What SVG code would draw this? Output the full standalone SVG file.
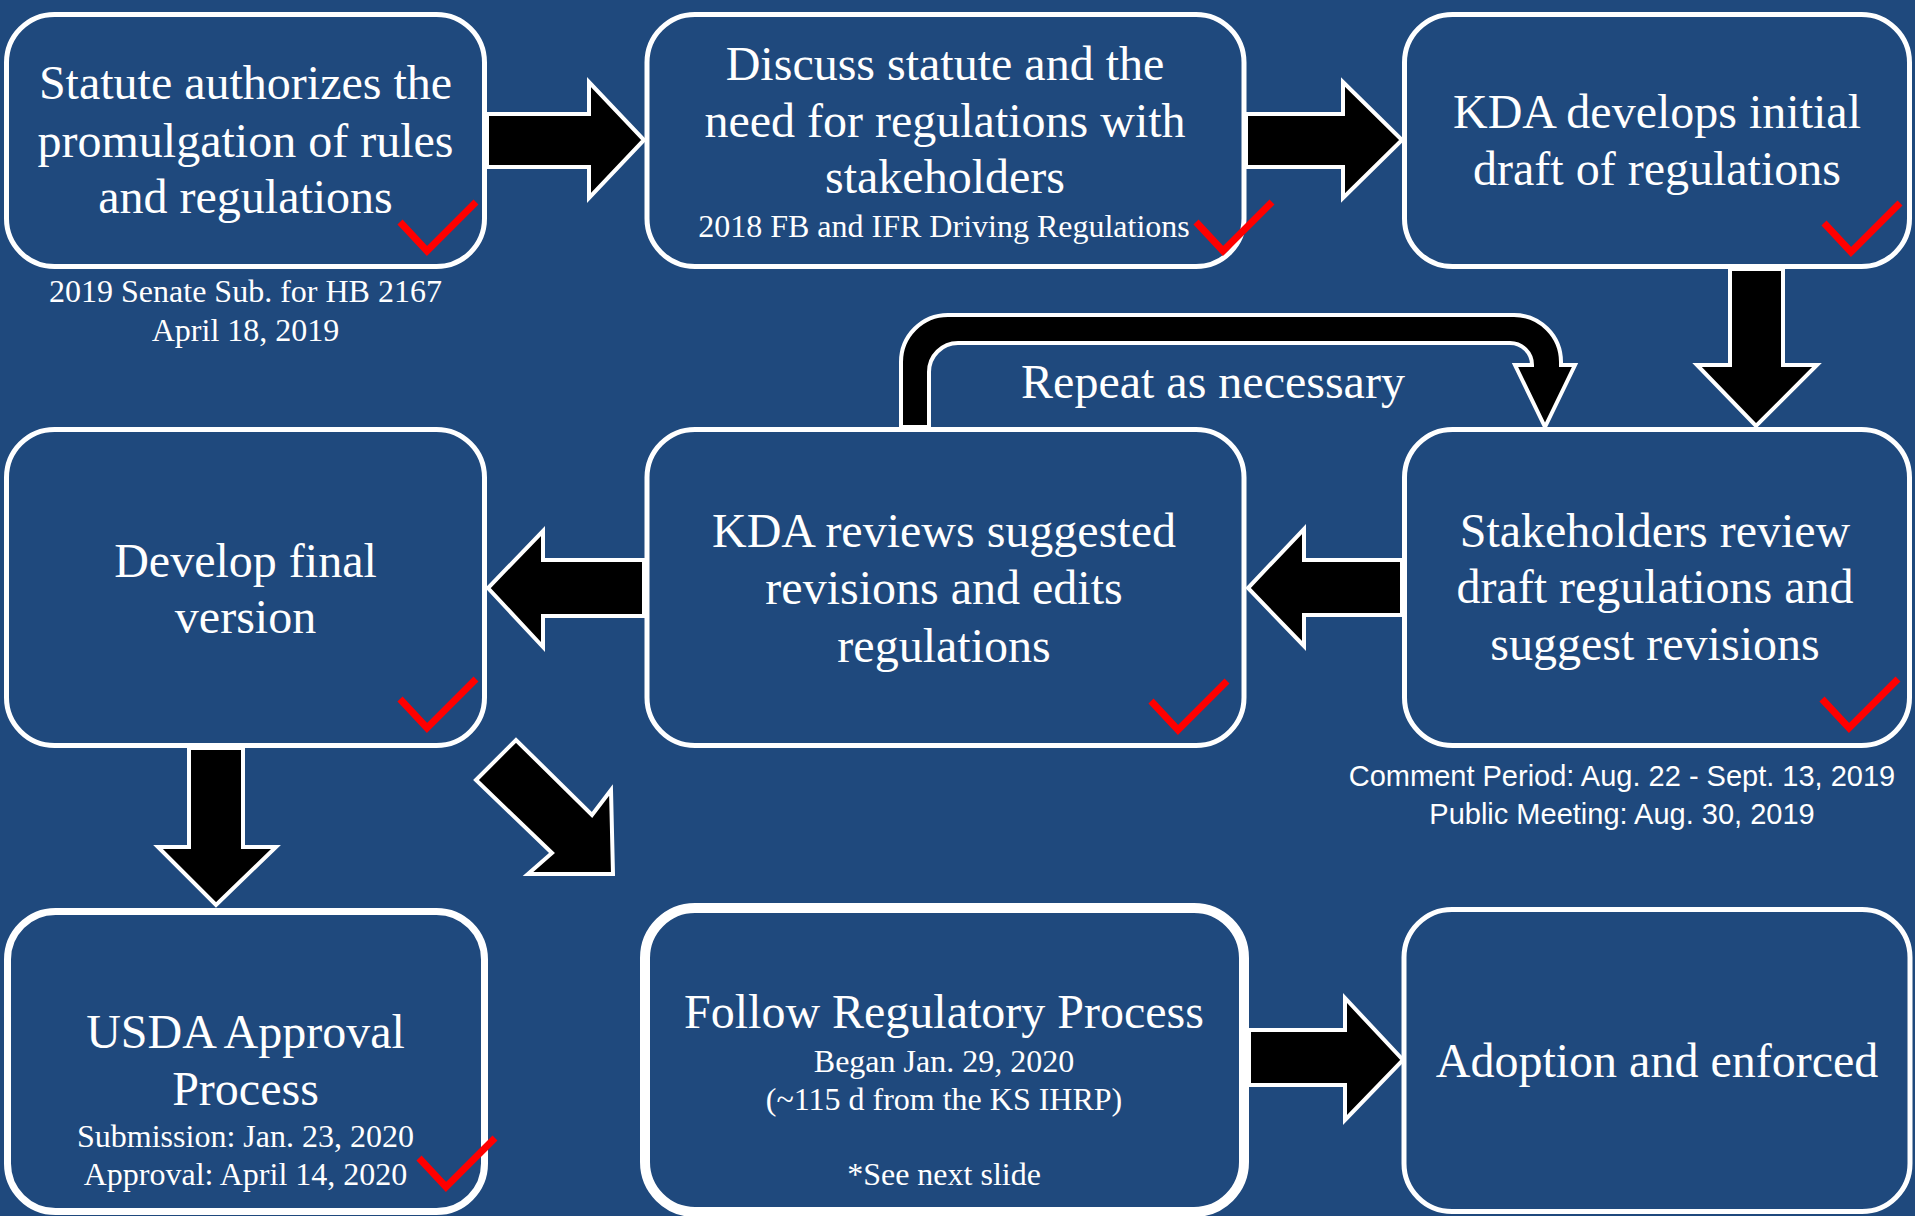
<svg xmlns="http://www.w3.org/2000/svg" width="1915" height="1216" viewBox="0 0 1915 1216">
<defs>
<style>
.bg{fill:#1F497D}
.box{fill:#1F497D;stroke:#FFFFFF;stroke-width:5}
.arrow{fill:#000000;stroke:#FFFFFF;stroke-width:4;stroke-linejoin:miter}
.t{font-family:"Liberation Serif","Times New Roman",serif;fill:#FFFFFF;text-anchor:middle}
.big{font-size:48px}
.small{font-size:32px}
.sans{font-family:"Liberation Sans",Arial,sans-serif;font-size:29px;fill:#FFFFFF;text-anchor:middle}
.chk{fill:none;stroke:#FF0000;stroke-width:7}
</style>
<path id="check" d="M0,0 L27,29 L76,-20"/>
</defs>
<rect class="bg" x="0" y="0" width="1915" height="1216"/>

<g id="connectors">
<polygon class="arrow" points="487,114 589,114 589,82 644,140 589,198 589,167 487,167"/>
<polygon class="arrow" points="1246,114 1343,114 1343,82 1402,140 1343,198 1343,167 1246,167"/>
<polygon class="arrow" points="1730,269 1783,269 1783,365 1817,365 1756,426 1697,365 1730,365"/>
<path class="arrow" d="M901,427 L901,362 A47,47 0 0 1 948,315 L1514,315 A47,47 0 0 1 1561,362 L1561,365 L1575,365 L1545,427 L1515,365 L1532,365 A22,22 0 0 0 1510,343 L958,343 A29,29 0 0 0 929,372 L929,427 Z"/>
<polygon class="arrow" points="1402,560 1304,560 1304,529 1248,588 1304,646 1304,615 1402,615"/>
<polygon class="arrow" points="644,560 543,560 543,531 488,588 543,647 543,616 644,616"/>
<polygon class="arrow" points="189,748 243,748 243,847 276,847 216,905 158,847 189,847"/>
<polygon class="arrow" points="476,780 516,740 592,815 611,790 613,874 528,874 552,853"/>
<polygon class="arrow" points="1249,1030 1345,1030 1345,998 1403,1060 1345,1120 1345,1085 1249,1085"/>
</g>

<g id="node-statute">
<rect class="box" x="6.5" y="14.5" width="478" height="252" rx="48" ry="48"/>
<text class="t big" x="245.5" y="99">Statute authorizes the</text>
<text class="t big" x="245.5" y="157">promulgation of rules</text>
<text class="t big" x="245.5" y="213">and regulations</text>
<use href="#check" class="chk" x="400" y="222"/>
<text class="t small" x="245.5" y="302">2019 Senate Sub. for HB 2167</text>
<text class="t small" x="245.5" y="341">April 18, 2019</text>
</g>

<g id="node-discuss">
<rect class="box" x="647" y="14.5" width="597" height="252" rx="48" ry="48"/>
<text class="t big" x="945" y="80">Discuss statute and the</text>
<text class="t big" x="945" y="137">need for regulations with</text>
<text class="t big" x="945" y="193">stakeholders</text>
<text class="t small" x="944" y="237">2018 FB and IFR Driving Regulations</text>
<use href="#check" class="chk" x="1196" y="222"/>
</g>

<g id="node-draft">
<rect class="box" x="1404.5" y="14.5" width="505" height="252" rx="48" ry="48"/>
<text class="t big" x="1657" y="128">KDA develops initial</text>
<text class="t big" x="1657" y="185">draft of regulations</text>
<use href="#check" class="chk" x="1824" y="223"/>
</g>

<g id="label-repeat">
<text class="t big" x="1213" y="398">Repeat as necessary</text>
</g>

<g id="node-final">
<rect class="box" x="6.5" y="429.5" width="478" height="316" rx="48" ry="48"/>
<text class="t big" x="245.5" y="577">Develop final</text>
<text class="t big" x="245.5" y="633">version</text>
<use href="#check" class="chk" x="400" y="699"/>
</g>

<g id="node-kda-review">
<rect class="box" x="647" y="429.5" width="597" height="316" rx="48" ry="48"/>
<text class="t big" x="944" y="547">KDA reviews suggested</text>
<text class="t big" x="944" y="604">revisions and edits</text>
<text class="t big" x="944" y="662">regulations</text>
<use href="#check" class="chk" x="1151" y="701"/>
</g>

<g id="node-stakeholders">
<rect class="box" x="1404.5" y="429.5" width="505" height="316" rx="48" ry="48"/>
<text class="t big" x="1655" y="547">Stakeholders review</text>
<text class="t big" x="1655" y="603">draft regulations and</text>
<text class="t big" x="1655" y="660">suggest revisions</text>
<use href="#check" class="chk" x="1822" y="699"/>
<text class="sans" x="1622" y="786">Comment Period: Aug. 22 - Sept. 13, 2019</text>
<text class="sans" x="1622" y="824">Public Meeting: Aug. 30, 2019</text>
</g>

<g id="node-usda">
<rect class="box" x="7.5" y="911.5" width="477" height="300" rx="48" ry="48" style="stroke-width:7"/>
<text class="t big" x="245.5" y="1048">USDA Approval</text>
<text class="t big" x="245.5" y="1105">Process</text>
<text class="t small" x="245.5" y="1147">Submission: Jan. 23, 2020</text>
<text class="t small" x="245.5" y="1185">Approval: April 14, 2020</text>
<use href="#check" class="chk" x="419" y="1158"/>
</g>

<g id="node-regulatory">
<rect class="box" x="645" y="908" width="599" height="304" rx="50" ry="50" style="stroke-width:10"/>
<text class="t big" x="944" y="1028">Follow Regulatory Process</text>
<text class="t small" x="944" y="1072">Began Jan. 29, 2020</text>
<text class="t small" x="944" y="1110">(~115 d from the KS IHRP)</text>
<text class="t small" x="944" y="1185">*See next slide</text>
</g>

<g id="node-adoption">
<rect class="box" x="1404" y="909.5" width="506" height="302" rx="48" ry="48"/>
<text class="t big" x="1657" y="1077">Adoption and enforced</text>
</g>
</svg>
